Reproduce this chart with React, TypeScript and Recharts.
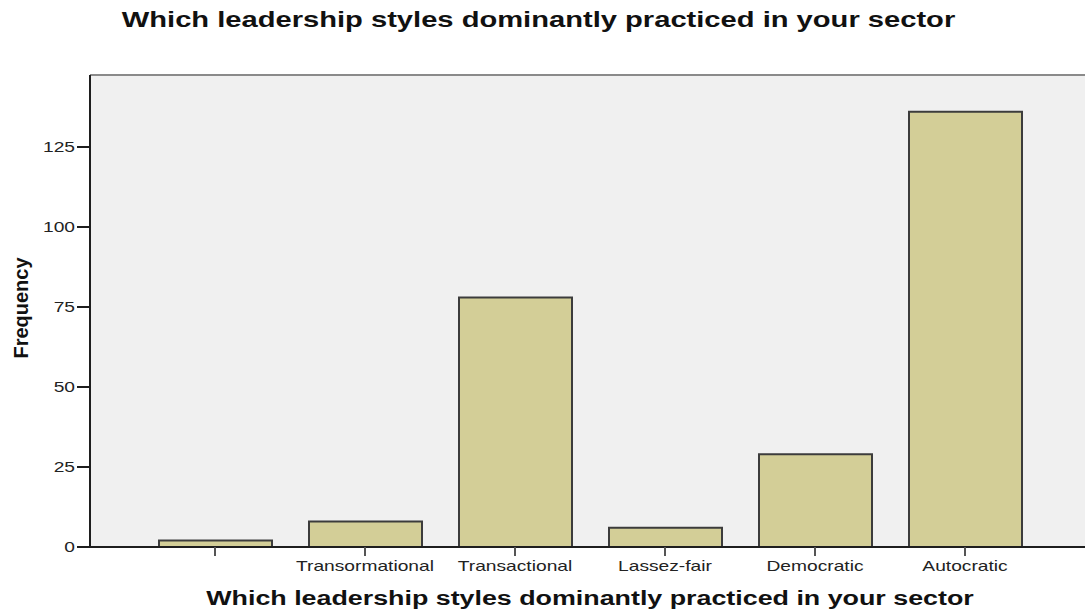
import React from 'react';
import { BarChart, Bar, XAxis, YAxis, CartesianGrid, ReferenceLine } from 'recharts';

const chartTitle = 'Which leadership styles dominantly practiced in your sector';
const xAxisTitle = 'Which leadership styles dominantly practiced in your sector';
const yAxisTitle = 'Frequency';

const categories = ['', 'Transormational', 'Transactional', 'Lassez-fair', 'Democratic', 'Autocratic'];
const frequencies = [2, 8, 78, 6, 29, 136];
const yTicks = [0, 25, 50, 75, 100, 125];
const yMax = 147.5;

const data = categories.map((name, i) => ({ name, frequency: frequencies[i] }));

const FONT = '"Liberation Sans", Arial, Helvetica, sans-serif';

const XTick = (props: any) => {
  const { x, payload } = props;
  return (
    <g transform={`translate(${x},571) scale(1.28,1)`}>
      <text x={0} y={0} textAnchor="middle" fontFamily={FONT} fontSize={15} fill="#222">
        {payload.value}
      </text>
    </g>
  );
};

const YTick = (props: any) => {
  const { x, y, payload } = props;
  return (
    <g transform={`translate(${x},${y}) scale(1.28,1)`}>
      <text x={0} y={0} dy="0.36em" textAnchor="end" fontFamily={FONT} fontSize={15} fill="#222">
        {payload.value}
      </text>
    </g>
  );
};

export default function App() {
  return (
    <div
      style={{
        position: 'absolute',
        left: 0,
        top: 0,
        width: 1085,
        height: 611,
        overflow: 'hidden',
        background: '#ffffff',
      }}
    >
      <BarChart
        width={1100}
        height={611}
        data={data}
        margin={{ top: 75, right: 10, bottom: 0, left: 0 }}
      >
        <CartesianGrid fill="#f0f0f0" horizontal={false} vertical={false} stroke="none" />
        <XAxis
          dataKey="name"
          height={64}
          padding={{ left: 50, right: 50 }}
          axisLine={{ stroke: '#1e1e1e', strokeWidth: 2 }}
          tickLine={{ stroke: '#555', strokeWidth: 2 }}
          tickSize={9}
          tick={<XTick />}
          interval={0}
        />
        <YAxis
          width={90}
          domain={[0, yMax]}
          ticks={yTicks}
          axisLine={{ stroke: '#1e1e1e', strokeWidth: 2 }}
          tickLine={{ stroke: '#1e1e1e', strokeWidth: 2 }}
          tickSize={13}
          tickMargin={2}
          tick={<YTick />}
          allowDataOverflow
        />
        <ReferenceLine y={yMax} stroke="#8a8a8a" strokeWidth={2} />
        <Bar
          dataKey="frequency"
          fill="#d3ce97"
          stroke="#3c3c3c"
          strokeWidth={2}
          barSize={113}
          isAnimationActive={false}
        />
      </BarChart>
      <svg
        width={1085}
        height={611}
        style={{ position: 'absolute', left: 0, top: 0, pointerEvents: 'none' }}
      >
        <g transform="translate(538.5,27) scale(1.355,1)">
          <text x={0} y={0} textAnchor="middle" fontFamily={FONT} fontWeight="bold" fontSize={21.5} fill="#111">
            {chartTitle}
          </text>
        </g>
        <g transform="translate(590,605) scale(1.278,1)">
          <text x={0} y={0} textAnchor="middle" fontFamily={FONT} fontWeight="bold" fontSize={21} fill="#111">
            {xAxisTitle}
          </text>
        </g>
        <g transform="translate(28,308) rotate(-90)">
          <text x={0} y={0} textAnchor="middle" fontFamily={FONT} fontWeight="bold" fontSize={20} fill="#111">
            {yAxisTitle}
          </text>
        </g>
      </svg>
    </div>
  );
}
